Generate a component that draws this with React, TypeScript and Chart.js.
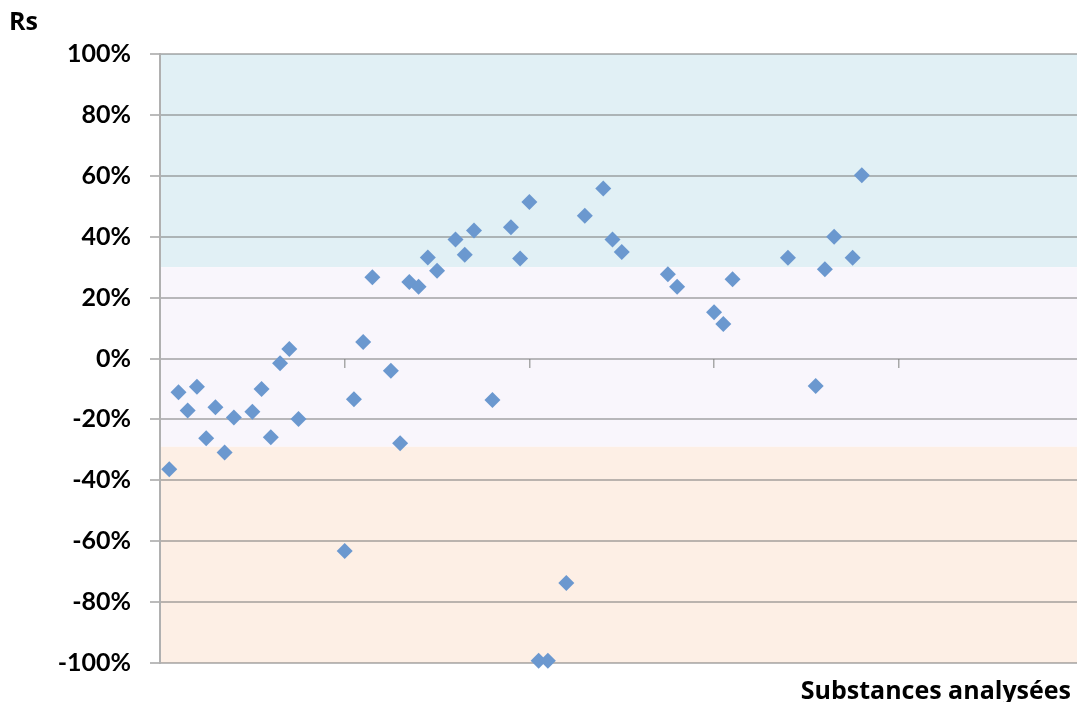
import React, { useEffect, useRef } from "react";
import { Chart, registerables } from "chart.js";

Chart.register(...registerables);

// Substance index (x position) and Rs value (%) for each analysed substance
const substanceIndex = [
  1, 2, 3, 4, 5, 6, 7, 8, 10, 11, 12, 13, 14, 15,
  20, 21, 22, 23, 25, 26, 27, 28, 29, 30, 32, 33, 34, 36,
  38, 39, 40, 41, 42, 44, 46, 48, 49, 50,
  55, 56, 60, 61, 62, 68, 71, 72, 73, 75, 76,
];
const rsValues = [
  -36.4, -11.1, -17.1, -9.3, -26.2, -16.0, -30.9, -19.4, -17.5, -10.0, -25.9, -1.6, 3.1, -19.9,
  -63.2, -13.4, 5.4, 26.7, -4.0, -27.8, 25.1, 23.6, 33.2, 28.8, 39.1, 34.1, 42.0, -13.6,
  43.1, 32.8, 51.4, -99.3, -99.3, -73.7, 46.9, 55.8, 39.1, 35.0,
  27.7, 23.6, 15.2, 11.3, 26.0, 33.1, -9.0, 29.3, 40.0, 33.1, 60.2,
];
// Background zones: [from, to] in %
const zoneHigh = [30, 100];
const zoneMid = [-29, 30];
const zoneLow = [-100, -29];
const zoneColors = ["#e1f0f5", "#f9f6fc", "#fdefe5"];
const yAxisTitle = "Rs";
const xAxisTitle = "Substances analysées";

const FONT = "Lato, 'DejaVu Sans', sans-serif";
const TITLE_FONT = "'Open Sans', 'DejaVu Sans', sans-serif";

export default function App() {
  const canvasRef = useRef<HTMLCanvasElement | null>(null);

  useEffect(() => {
    document.body.style.margin = "0";
    const canvas = canvasRef.current;
    if (!canvas) return;

    const bandsPlugin = {
      id: "bands",
      beforeDraw(chart: any) {
        const { ctx, chartArea, scales } = chart;
        const y = scales.y;
        const zones = [zoneHigh, zoneMid, zoneLow];
        ctx.save();
        zones.forEach((z, i) => {
          const top = y.getPixelForValue(z[1]);
          const bottom = y.getPixelForValue(z[0]);
          ctx.fillStyle = zoneColors[i];
          ctx.fillRect(chartArea.left, top, chartArea.right - chartArea.left, bottom - top);
        });
        ctx.restore();
      },
      afterDraw(chart: any) {
        const { ctx } = chart;
        ctx.save();
        ctx.fillStyle = "#000";
        ctx.font = `bold 25px ${TITLE_FONT}`;
        ctx.textBaseline = "alphabetic";
        ctx.textAlign = "left";
        ctx.fillText(yAxisTitle, 9, 30);
        ctx.textAlign = "right";
        ctx.fillText(xAxisTitle, 1071, 699);
        ctx.restore();
      },
    };

    const gridColor = "rgba(120,120,120,0.5)";

    const chart = new Chart(canvas, {
      type: "scatter",
      data: {
        datasets: [
          {
            data: substanceIndex.map((x, i) => ({ x, y: rsValues[i] })),
            pointStyle: "rectRot",
            pointRadius: 8,
            pointHoverRadius: 8,
            backgroundColor: "#6b98cf",
            borderColor: "#6b98cf",
            borderWidth: 0,
            clip: false as any,
          },
        ],
      },
      options: {
        animation: false,
        responsive: false,
        maintainAspectRatio: false,
        events: [],
        layout: { autoPadding: false, padding: { top: 54, bottom: 39, left: 0, right: 0 } },
        plugins: {
          legend: { display: false },
          tooltip: { enabled: false },
        },
        scales: {
          x: {
            type: "linear",
            min: 0,
            max: 99.3,
            position: { y: 0 } as any,
            ticks: { display: false, stepSize: 20, includeBounds: false },
            grid: {
              drawOnChartArea: false,
              drawTicks: true,
              tickLength: 9,
              color: "#a8a8a8",
              lineWidth: 1.5,
            },
            border: { display: false },
          },
          y: {
            type: "linear",
            min: -100,
            max: 100,
            afterFit: (scale: any) => {
              scale.width = 160;
            },
            ticks: {
              stepSize: 20,
              padding: 19,
              color: "#000",
              font: { family: FONT, size: 25, weight: "bold" },
              callback: (v: any) => `${v}%`,
            },
            grid: {
              color: gridColor,
              lineWidth: 2,
              drawTicks: true,
              tickLength: 10,
            },
            border: { display: true, color: "#b0b0b0", width: 2 },
          },
        },
      },
      plugins: [bandsPlugin],
    });

    return () => chart.destroy();
  }, []);

  return (
    <div style={{ width: 1077, height: 702 }}>
      <canvas ref={canvasRef} width={1077} height={702} style={{ display: "block" }} />
    </div>
  );
}
